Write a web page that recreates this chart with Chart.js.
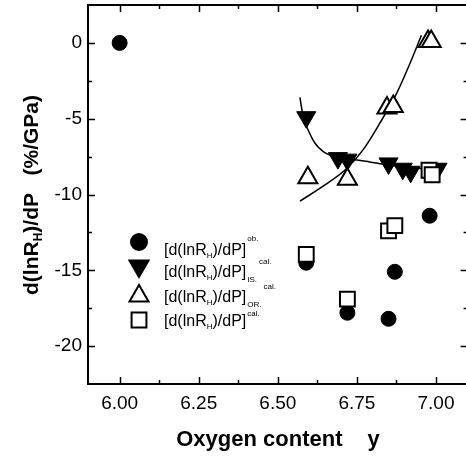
<!DOCTYPE html>
<html>
<head>
<meta charset="utf-8">
<script src="https://cdn.jsdelivr.net/npm/chart.js@4.4.1/dist/chart.umd.min.js"></script>
<style>
  html, body { margin: 0; padding: 0; background: #fff; overflow: hidden; }
  #wrap { width: 466px; height: 457px; overflow: hidden; }
</style>
</head>
<body>
<div id="wrap"><canvas id="chart" width="472" height="457"></canvas></div>
<script>
// measured: [d(lnRH)/dP]ob.
const obX = [6.00, 6.59, 6.72, 6.85, 6.87, 6.98];
const obY = [0.0, -14.5, -17.8, -18.2, -15.1, -11.4];
// calculated, isotropic part
const isX = [6.59, 6.69, 6.72, 6.85, 6.895, 6.92, 7.005];
const isY = [-4.9, -7.6, -7.7, -7.95, -8.3, -8.5, -8.3];
// calculated, orthorhombic part
const orX = [6.595, 6.72, 6.845, 6.865, 6.975, 6.985];
const orY = [-8.9, -9.0, -4.3, -4.2, 0.1, 0.1];
// calculated total
const calX = [6.59, 6.72, 6.85, 6.87, 6.978, 6.988];
const calY = [-13.95, -16.9, -12.4, -12.05, -8.4, -8.7];
// guide curves
const isCurveX = [6.570, 6.580, 6.596, 6.617, 6.643, 6.665, 6.70, 6.75, 6.79, 6.85, 6.92, 7.00];
const isCurveY = [-3.6, -4.85, -5.75, -6.6, -7.15, -7.4, -7.6, -7.72, -7.85, -8.05, -8.2, -8.4];
const orCurveX = [6.570, 6.643, 6.717, 6.770, 6.823, 6.876, 6.918, 6.954];
const orCurveY = [-10.44, -9.45, -8.3, -7.04, -5.28, -3.31, -1.34, 0.5];

const xTicks = [6.00, 6.25, 6.50, 6.75, 7.00];
const xMinor = [6.125, 6.375, 6.625, 6.875];
const yTicks = [-20, -15, -10, -5, 0];
const yMinor = [-17.5, -12.5, -7.5, -2.5];

const legendItems = [
  { style: 'circle', rot: 0, fill: '#000', r: 8, sub: '', sup: 'ob.' },
  { style: 'triangle', rot: 180, fill: '#000', r: 11, sub: 'IS.', sup: 'cal.' },
  { style: 'triangle', rot: 0, fill: '#fff', r: 11, sub: 'OR.', sup: 'cal.' },
  { style: 'rect', rot: 0, fill: '#fff', r: 10.5, sub: '', sup: 'cal.' }
];

function pts(xs, ys) {
  return xs.map((x, i) => ({ x: x, y: ys[i] }));
}

const baseFont = 'Liberation Sans, Arial, sans-serif';

const frame = {
  id: 'frame',
  afterDraw(chart) {
    const ctx = chart.ctx;
    const a = chart.chartArea;
    const xs = chart.scales.x, ys = chart.scales.y;
    ctx.save();
    ctx.strokeStyle = '#000';
    ctx.lineWidth = 2;
    ctx.strokeRect(a.left, a.top, a.right - a.left, a.bottom - a.top);
    ctx.lineWidth = 1.5;
    ctx.beginPath();
    function xt(v, len) {
      const p = Math.round(xs.getPixelForValue(v)) + 0.5;
      ctx.moveTo(p, a.bottom); ctx.lineTo(p, a.bottom - len);
      ctx.moveTo(p, a.top); ctx.lineTo(p, a.top + len);
    }
    function yt(v, len) {
      const p = Math.round(ys.getPixelForValue(v)) + 0.5;
      ctx.moveTo(a.left, p); ctx.lineTo(a.left + len, p);
      ctx.moveTo(a.right, p); ctx.lineTo(a.right - len, p);
    }
    xTicks.forEach(v => xt(v, 7));
    xMinor.forEach(v => xt(v, 4));
    yTicks.forEach(v => yt(v, 7));
    yMinor.forEach(v => yt(v, 4));
    ctx.stroke();

    // axis titles
    ctx.fillStyle = '#000';
    ctx.font = 'bold 22px ' + baseFont;
    ctx.textBaseline = 'alphabetic';
    ctx.textAlign = 'left';
    const t1 = 'Oxygen content';
    const w1 = ctx.measureText(t1).width;
    const gap = 25;
    const wy = ctx.measureText('y').width;
    let x0 = 278 - (w1 + gap + wy) / 2;
    ctx.fillText(t1, x0, 446);
    ctx.fillText('y', x0 + w1 + gap, 446);

    // rotated y title with subscript
    ctx.save();
    ctx.translate(38, 195);
    ctx.rotate(-Math.PI / 2);
    const parts = [
      { t: 'd(lnR', f: 'bold 21px ', dy: 0 },
      { t: 'H', f: 'bold 12px ', dy: 4 },
      { t: ')/dP', f: 'bold 21px ', dy: 0 },
      { t: '   (%/GPa)', f: 'bold 21px ', dy: 0 }
    ];
    let tw = 0;
    parts.forEach(p => { ctx.font = p.f + baseFont; tw += ctx.measureText(p.t).width; });
    let cx = -tw / 2;
    parts.forEach(p => {
      ctx.font = p.f + baseFont;
      ctx.fillText(p.t, cx, p.dy);
      cx += ctx.measureText(p.t).width;
    });
    ctx.restore();

    // legend
    const symX = 139;
    const symY = [242, 266, 296, 320];
    const baseY = [255, 277, 302, 326];
    const supDy = [-14, -13, -13, -10];
    legendItems.forEach((it, i) => {
      ctx.fillStyle = it.fill;
      ctx.strokeStyle = '#000';
      ctx.lineWidth = 2;
      Chart.helpers.drawPoint(ctx, { pointStyle: it.style, radius: it.r, rotation: it.rot, borderWidth: 2 }, symX, symY[i]);
      ctx.fillStyle = '#000';
      let lx = 164;
      const by = baseY[i];
      ctx.font = '16px ' + baseFont;
      ctx.fillText('[d(lnR', lx, by); lx += ctx.measureText('[d(lnR').width;
      ctx.font = '8px ' + baseFont;
      ctx.fillText('H', lx, by + 3); lx += ctx.measureText('H').width;
      ctx.font = '16px ' + baseFont;
      ctx.fillText(')/dP]', lx, by); lx += ctx.measureText(')/dP]').width;
      ctx.font = '8px ' + baseFont;
      if (it.sub) {
        ctx.fillText(it.sub, lx + 1, by + 5);
        lx += ctx.measureText(it.sub).width + 3;
        ctx.fillText(it.sup, lx, by + supDy[i]);
      } else {
        ctx.fillText(it.sup, lx + 1, by + supDy[i]);
      }
    });
    ctx.restore();
  }
};

const curveStyle = {
  type: 'line', showLine: true, borderColor: '#000', borderWidth: 1.5,
  pointRadius: 0, cubicInterpolationMode: 'monotone', fill: false
};

function noPad(s) {
  s.paddingTop = 0; s.paddingBottom = 0;
  s.paddingLeft = 0; s.paddingRight = 0;
}

new Chart(document.getElementById('chart'), {
  type: 'scatter',
  data: {
    datasets: [
      { label: 'cal', data: pts(calX, calY), pointStyle: 'rect', pointRadius: 10.5,
        backgroundColor: '#fff', borderColor: '#000', borderWidth: 2, order: 1 },
      { label: 'OR', data: pts(orX, orY), pointStyle: 'triangle', pointRadius: 11,
        backgroundColor: '#fff', borderColor: '#000', borderWidth: 2, order: 2 },
      { label: 'IS', data: pts(isX, isY), pointStyle: 'triangle', pointRotation: 180, pointRadius: 11,
        backgroundColor: '#000', borderColor: '#000', borderWidth: 1, order: 3 },
      { label: 'ob', data: pts(obX, obY), pointStyle: 'circle', pointRadius: 7.5,
        backgroundColor: '#000', borderColor: '#000', borderWidth: 1, order: 4 },
      Object.assign({ label: 'IS fit', data: pts(isCurveX, isCurveY), order: 5 }, curveStyle),
      Object.assign({ label: 'OR fit', data: pts(orCurveX, orCurveY), order: 6 }, curveStyle)
    ]
  },
  options: {
    responsive: false,
    animation: false,
    layout: { autoPadding: false, padding: { left: 0, top: 5, right: 4.4, bottom: 0 } },
    plugins: { legend: { display: false }, tooltip: { enabled: false } },
    scales: {
      x: {
        type: 'linear', min: 5.9, max: 7.1,
        grid: { display: false, drawTicks: false },
        border: { display: false },
        afterBuildTicks: s => { s.ticks = xTicks.map(v => ({ value: v })); },
        afterFit: s => { s.height = 73; noPad(s); },
        ticks: {
          padding: 8, color: '#000', font: { family: baseFont, size: 19 },
          callback: v => v.toFixed(2)
        }
      },
      y: {
        type: 'linear', min: -22.5, max: 2.5,
        grid: { display: false, drawTicks: false },
        border: { display: false },
        afterBuildTicks: s => { s.ticks = yTicks.map(v => ({ value: v })); },
        afterFit: s => { s.width = 88; noPad(s); },
        ticks: {
          padding: 6, color: '#000', font: { family: baseFont, size: 19 },
          callback: v => String(v)
        }
      }
    }
  },
  plugins: [frame]
});
</script>
</body>
</html>
